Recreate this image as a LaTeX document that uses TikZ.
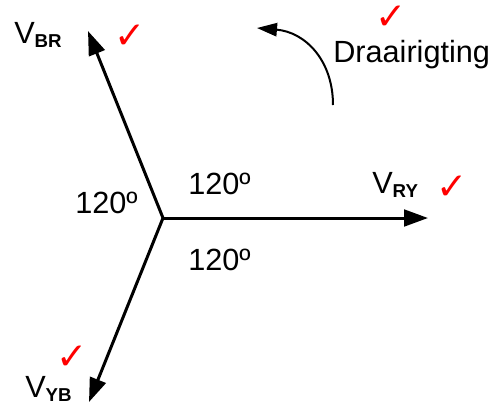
\documentclass[tikz,border=0pt]{standalone}
\usepackage{fontspec}
\setmainfont{Liberation Sans}
\newfontfamily\tickfont{DejaVu Sans}
\usetikzlibrary{arrows.meta}
\newcommand{\phasor}[1]{V\raisebox{-3pt}{\fontsize{14}{16}\selectfont\bfseries #1}}
\begin{document}
\begin{tikzpicture}[x=0.75pt,y=-0.75pt,
  every node/.style={inner sep=0pt,font=\fontsize{23}{27}\selectfont},
  lbl/.style={anchor=base west},
  vec/.style={line width=2.25pt,-{Triangle[length=18pt,width=12.5pt]}},
  rot/.style={line width=1.5pt,-{Triangle[length=15pt,width=10pt]}},
  tick/.style={text=red,font=\tickfont\fontsize{28}{30}\selectfont}]
\useasboundingbox (0,0) rectangle (497,405);
\coordinate (O) at (163,218);
\coordinate (ry) at (428,218);
\coordinate (br) at (88,31);
\coordinate (yb) at (89,402);
\draw[vec] (O) -- (ry);
\draw[vec] (O) -- (br);
\draw[vec] (O) -- (yb);
% phasor labels
\node[lbl] (lbr) at (14,43) {\phasor{BR}};
\node[lbl] (lry) at (372,193) {\phasor{RY}};
\node[lbl] (lyb) at (25,397) {\phasor{YB}};
% angles
\node[lbl] (a1) at (188,194) {120º};
\node[lbl] (a2) at (75,213) {120º};
\node[lbl] (a3) at (188,270) {120º};
% direction of rotation
\coordinate (rs) at (333,105);
\coordinate (re) at (257,28);
\draw[rot] (rs) .. controls (333,60) and (305,32) .. (re);
\node[lbl] (dr) at (333,62) {Draairigting};
% marks
\node[tick] (t1) at (130,37) {✓};
\node[tick] (t2) at (391,18) {✓};
\node[tick] (t3) at (452,188) {✓};
\node[tick] (t4) at (72,358) {✓};
\end{tikzpicture}
\end{document}
